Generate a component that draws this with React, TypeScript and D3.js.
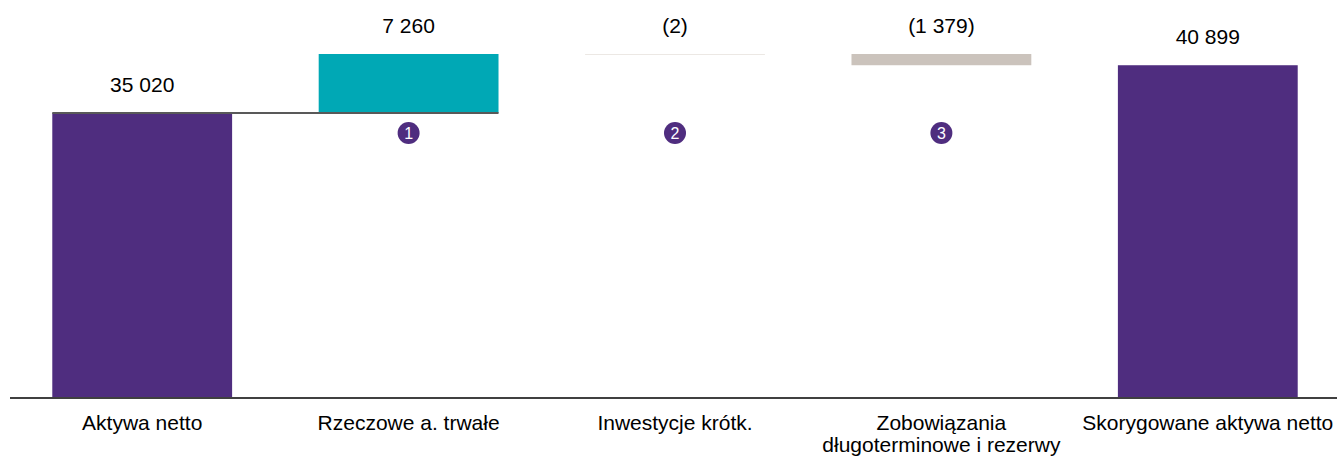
import * as d3 from "d3";

const categories = [
  "Aktywa netto",
  "Rzeczowe a. trwałe",
  "Inwestycje krótk.",
  "Zobowiązania\ndługoterminowe i rezerwy",
  "Skorygowane aktywa netto",
];
const values = [35020, 7260, -2, -1379, 40899];
const kinds = ["total", "delta", "delta", "delta", "total"];
const badges = [null, 1, 2, 3, null];

const width = 1337;
const height = 457;
const baseY = 398;

const PURPLE = "#4f2d7f";
const colorFor = (kind: string, v: number, i: number) => {
  if (kind === "total") return PURPLE;
  if (v > 0) return "#00a8b5";
  return i === 2 ? "#ece8e4" : "#cbc3bc";
};

const fmtNum = (v: number) =>
  d3.formatLocale({ decimal: ",", thousands: " ", grouping: [3], currency: ["", ""] }).format(",d")(Math.abs(v));
const fmt = (v: number, kind: string) => (kind === "delta" && v < 0 ? `(${fmtNum(v)})` : fmtNum(v));

export default function App() {
  // waterfall steps
  let running = 0;
  const steps = values.map((v, i) => {
    if (kinds[i] === "total") {
      running = v;
      return { lo: 0, hi: v };
    }
    const start = running;
    running += v;
    return { lo: Math.min(start, running), hi: Math.max(start, running) };
  });

  const x = d3.scaleBand<string>().domain(categories).range([9, 1341]).paddingInner(0.325).paddingOuter(0.1625);
  const y = d3.scaleLinear().domain([0, d3.max(steps, (s) => s.hi) as number]).range([baseY, 54]);

  const font = "'Liberation Sans', Arial, sans-serif";

  return (
    <svg
      width={width}
      height={height}
      style={{ position: "absolute", left: 0, top: 0, background: "#fff" }}
      fontFamily={font}
    >
      {steps.map((s, i) => {
        const x0 = x(categories[i]) as number;
        const top = y(s.hi);
        const h = Math.max(1, y(s.lo) - y(s.hi));
        return (
          <g key={i}>
            <rect x={x0} y={top} width={x.bandwidth()} height={h} fill={colorFor(kinds[i], values[i], i)} />
            <text x={x0 + x.bandwidth() / 2} y={top - 21} textAnchor="middle" fontSize={21} fill="#000">
              {fmt(values[i], kinds[i])}
            </text>
          </g>
        );
      })}

      {/* connector between first total and first step */}
      <line
        x1={x(categories[0]) as number}
        x2={(x(categories[1]) as number) + x.bandwidth()}
        y1={y(values[0])}
        y2={y(values[0])}
        stroke="#595959"
        strokeWidth={2}
      />

      {badges.map((b, i) =>
        b == null ? null : (
          <g key={"b" + i} transform={`translate(${(x(categories[i]) as number) + x.bandwidth() / 2},133)`}>
            <circle r={11} fill={PURPLE} />
            <text textAnchor="middle" dominantBaseline="central" fontSize={16} fill="#fff">
              {b}
            </text>
          </g>
        )
      )}

      <line x1={10} x2={width} y1={baseY} y2={baseY} stroke="#404040" strokeWidth={2} />

      {categories.map((c, i) => (
        <text key={"c" + i} x={(x(c) as number) + x.bandwidth() / 2} y={430} textAnchor="middle" fontSize={21}>
          {c.split("\n").map((line, j) => (
            <tspan key={j} x={(x(c) as number) + x.bandwidth() / 2} dy={j === 0 ? 0 : 22}>
              {line}
            </tspan>
          ))}
        </text>
      ))}
    </svg>
  );
}
